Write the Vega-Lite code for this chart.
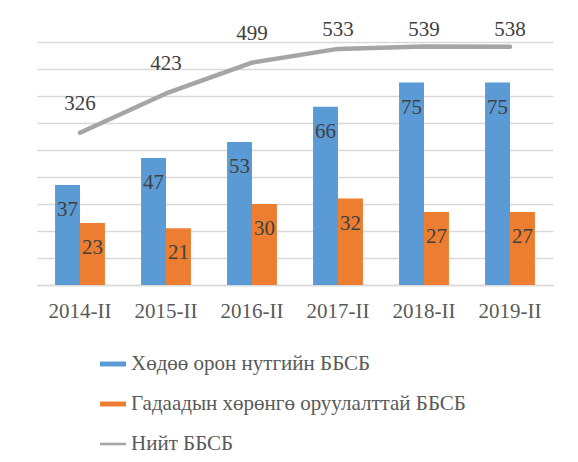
{
  "$schema": "https://vega.github.io/schema/vega-lite/v6.json",
  "width": 516,
  "height": 243,
  "autosize": {"type": "none"},
  "padding": {"left": 37, "top": 42, "right": 25, "bottom": 177},
  "background": "white",
  "datasets": {
    "bars": [
      {"year": "2014-II", "series": "Хөдөө орон нутгийн ББСБ", "value": 37},
      {"year": "2014-II", "series": "Гадаадын хөрөнгө оруулалттай ББСБ", "value": 23},
      {"year": "2015-II", "series": "Хөдөө орон нутгийн ББСБ", "value": 47},
      {"year": "2015-II", "series": "Гадаадын хөрөнгө оруулалттай ББСБ", "value": 21},
      {"year": "2016-II", "series": "Хөдөө орон нутгийн ББСБ", "value": 53},
      {"year": "2016-II", "series": "Гадаадын хөрөнгө оруулалттай ББСБ", "value": 30},
      {"year": "2017-II", "series": "Хөдөө орон нутгийн ББСБ", "value": 66},
      {"year": "2017-II", "series": "Гадаадын хөрөнгө оруулалттай ББСБ", "value": 32},
      {"year": "2018-II", "series": "Хөдөө орон нутгийн ББСБ", "value": 75},
      {"year": "2018-II", "series": "Гадаадын хөрөнгө оруулалттай ББСБ", "value": 27},
      {"year": "2019-II", "series": "Хөдөө орон нутгийн ББСБ", "value": 75},
      {"year": "2019-II", "series": "Гадаадын хөрөнгө оруулалттай ББСБ", "value": 27}
    ],
    "total": [
      {"year": "2014-II", "total": 326},
      {"year": "2015-II", "total": 423},
      {"year": "2016-II", "total": 499},
      {"year": "2017-II", "total": 533},
      {"year": "2018-II", "total": 539},
      {"year": "2019-II", "total": 538}
    ]
  },
  "layer": [
    {
      "data": {"name": "bars"},
      "mark": {"type": "bar"},
      "encoding": {
        "x": {
          "field": "year", "type": "nominal", "sort": null,
          "scale": {"paddingInner": 0.42, "paddingOuter": 0.21},
          "axis": {
            "title": null, "ticks": false, "domainColor": "#d9d9d9", "domainWidth": 1.5,
            "labelFont": "Liberation Serif", "labelFontSize": 21, "labelColor": "#595959",
            "labelPadding": 15, "labelAngle": 0
          }
        },
        "xOffset": {
          "field": "series", "type": "nominal",
          "scale": {"domain": ["Хөдөө орон нутгийн ББСБ", "Гадаадын хөрөнгө оруулалттай ББСБ"], "paddingInner": 0, "paddingOuter": 0}
        },
        "y": {
          "field": "value", "type": "quantitative",
          "scale": {"domain": [0, 90], "nice": false},
          "axis": {
            "title": null, "labels": false, "ticks": false, "domain": false,
            "grid": true, "gridColor": "#d9d9d9", "gridWidth": 1.5,
            "values": [0, 10, 20, 30, 40, 50, 60, 70, 80, 90]
          }
        },
        "color": {
          "field": "series", "type": "nominal",
          "scale": {
            "domain": ["Хөдөө орон нутгийн ББСБ", "Гадаадын хөрөнгө оруулалттай ББСБ", "Нийт ББСБ"],
            "range": ["#5B9BD5", "#ED7D31", "#A5A5A5"]
          },
          "legend": {
            "title": null, "orient": "none", "legendX": 63, "legendY": 309,
            "direction": "vertical",
            "labelFont": "Liberation Serif", "labelFontSize": 21, "labelColor": "#595959",
            "labelLimit": 500, "labelOffset": 5,
            "symbolType": "M-1,-0.19H1V0.19H-1Z", "symbolSize": 676, "symbolStrokeWidth": 0,
            "rowPadding": 17,
            "encode": {
              "symbols": {
                "update": {
                  "shape": {"signal": "datum.value === 'Нийт ББСБ' ? 'M-1,-0.1H1V0.1H-1Z' : 'M-1,-0.19H1V0.19H-1Z'"}
                }
              }
            }
          }
        }
      }
    },
    {
      "data": {"name": "bars"},
      "mark": {"type": "text", "baseline": "middle", "align": "center", "dy": 25, "font": "Liberation Serif", "fontSize": 21, "color": "#404040"},
      "encoding": {
        "x": {"field": "year", "type": "nominal", "sort": null},
        "xOffset": {"field": "series", "type": "nominal"},
        "y": {"field": "value", "type": "quantitative", "scale": {"domain": [0, 90], "nice": false}, "axis": null},
        "text": {"field": "value", "type": "quantitative"}
      }
    },
    {
      "data": {"name": "total"},
      "mark": {"type": "line", "strokeWidth": 4.5, "strokeCap": "round", "strokeJoin": "round"},
      "encoding": {
        "x": {"field": "year", "type": "nominal", "sort": null},
        "y": {"field": "total", "type": "quantitative", "scale": {"domain": [-50, 550], "nice": false, "zero": false}, "axis": null},
        "color": {"datum": "Нийт ББСБ"}
      }
    },
    {
      "data": {"name": "total"},
      "mark": {"type": "text", "baseline": "middle", "align": "center", "font": "Liberation Serif", "fontSize": 21, "color": "#404040"},
      "encoding": {
        "x": {"field": "year", "type": "nominal", "sort": null},
        "y": {"field": "total", "type": "quantitative", "scale": {"domain": [-50, 508], "range": [214, -12], "clamp": true, "nice": false, "zero": false}, "axis": null},
        "text": {"field": "total", "type": "quantitative"}
      }
    }
  ],
  "resolve": {"scale": {"y": "independent"}},
  "config": {"view": {"stroke": null}}
}
